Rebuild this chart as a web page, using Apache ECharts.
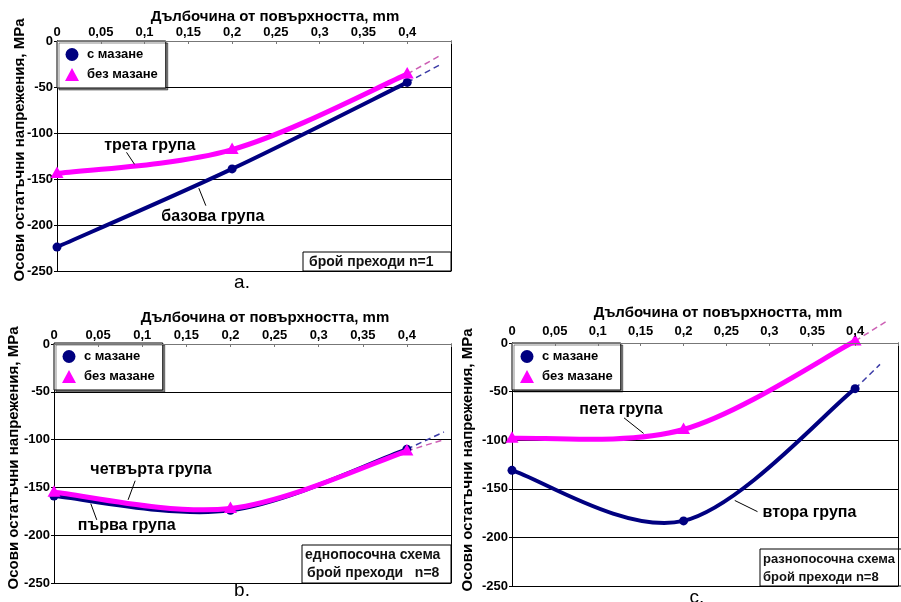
<!DOCTYPE html>
<html>
<head>
<meta charset="utf-8">
<script src="https://cdn.jsdelivr.net/npm/echarts@6/dist/echarts.min.js"></script>
<style>
html, body { margin: 0; padding: 0; background: #fff; }
#chart { width: 901px; height: 602px; }
</style>
</head>
<body>
<div id="chart"></div>
<script>
// Depth from the surface, mm
const depth = [0, 0.2, 0.4];

// a. one pass (n=1)
const baseGroup = [-224, -139, -45];   // с мазане
const thirdGroup = [-144, -118, -36];  // без мазане

// b. one-direction scheme, n=8
const firstGroup = [-159, -174, -110]; // с мазане
const fourthGroup = [-155, -172, -112];// без мазане

// c. alternating scheme, n=8
const secondGroup = [-131, -183, -47]; // с мазане
const fifthGroup = [-98, -89, 2];      // без мазане

// End points of the dashed extrapolation past 0.4 mm
const tailEndA = { oil: [0.439, -25], dry: [0.439, -15] };
const tailEndB = { oil: [0.442, -92], dry: [0.442, -100] };
const tailEndC = { oil: [0.429, -22], dry: [0.436, 22] };

const yTicks = { min: -250, max: 0, step: 50 };
const xTicks = { min: 0, max: 0.45, step: 0.05 };

const OIL = 'с мазане';
const DRY = 'без мазане';
const FONT = '"Liberation Sans", Arial, sans-serif';
const NAVY = '#000080';
const PINK = '#ff00ff';

const grids = [
  { left: 57, top: 41, width: 394, height: 230 },
  { left: 54, top: 344, width: 397, height: 239 },
  { left: 512, top: 343, width: 395, height: 243 }
];

function pairs(ys) { return depth.map((d, i) => [d, ys[i]]); }

const xAxes = grids.map((g, i) => ({
  type: 'value', gridIndex: i, position: 'top',
  min: xTicks.min, max: xTicks.max, interval: xTicks.step, z: 5,
  axisLine: { show: true, lineStyle: { color: '#777', width: 1 } },
  axisTick: { show: true, inside: true, length: 3, lineStyle: { color: '#777' } },
  axisLabel: {
    margin: i === 2 ? 5 : 2, color: '#000', fontFamily: FONT, fontWeight: 'bold', fontSize: 13,
    formatter: v => v > 0.44 ? '' : String(+v.toFixed(2)).replace('.', ',')
  },
  splitLine: { show: false }
}));

const yAxes = [];
grids.forEach((g, i) => {
  yAxes.push({
    type: 'value', gridIndex: i, min: yTicks.min, max: yTicks.max, interval: yTicks.step,
    axisLine: { show: true, onZero: false, lineStyle: { color: '#000', width: 1 } },
    axisTick: { show: true, length: 3, lineStyle: { color: '#000' } },
    axisLabel: { margin: 4, color: '#000', fontFamily: FONT, fontWeight: 'bold', fontSize: 13 },
    splitLine: { show: true, lineStyle: { color: '#000', width: 1 } }
  });
  yAxes.push({
    type: 'value', gridIndex: i, position: 'right', min: yTicks.min, max: yTicks.max, interval: yTicks.step,
    axisLine: { show: true, onZero: false, lineStyle: { color: '#000', width: 1 } },
    axisTick: { show: false }, axisLabel: { show: false }, splitLine: { show: false }
  });
});

// Cardinal (Catmull-Rom) spline through pixel points, as cubic Bezier segments
function splineSegments(pts) {
  const segs = [];
  const n = pts.length;
  for (let i = 0; i < n - 1; i++) {
    const p0 = pts[Math.max(i - 1, 0)], p1 = pts[i], p2 = pts[i + 1], p3 = pts[Math.min(i + 2, n - 1)];
    segs.push({
      x1: p1[0], y1: p1[1],
      cpx1: p1[0] + (p2[0] - p0[0]) / 6, cpy1: p1[1] + (p2[1] - p0[1]) / 6,
      cpx2: p2[0] - (p3[0] - p1[0]) / 6, cpy2: p2[1] - (p3[1] - p1[1]) / 6,
      x2: p2[0], y2: p2[1]
    });
  }
  return segs;
}

function curveSeries(name, ys, panel, isOil) {
  const color = isOil ? NAVY : PINK;
  const width = isOil ? 4 : 5;
  return {
    name: name, type: 'custom', xAxisIndex: panel, yAxisIndex: panel * 2,
    data: pairs(ys), z: isOil ? 3 : 4, clip: false,
    itemStyle: { color: color },
    encode: { x: 0, y: 1 }, silent: true, animation: false,
    renderItem: function (params, api) {
      const children = [];
      if (params.dataIndex === 0) {
        const pts = depth.map((d, k) => api.coord([d, ys[k]]));
        splineSegments(pts).forEach(s => children.push({
          type: 'bezierCurve', shape: s, silent: true,
          style: { stroke: color, lineWidth: width, fill: 'none', lineCap: 'round' }
        }));
      }
      const p = api.coord([api.value(0), api.value(1)]);
      if (isOil) {
        children.push({ type: 'circle', shape: { cx: p[0], cy: p[1], r: 4.5 }, style: { fill: color } });
      } else {
        children.push({ type: 'polygon', shape: { points: [[p[0], p[1] - 7], [p[0] - 6.5, p[1] + 4.5], [p[0] + 6.5, p[1] + 4.5]] }, style: { fill: color } });
      }
      return { type: 'group', children: children };
    }
  };
}

// Dashed extrapolation beyond the last measured depth; also carries the group captions
function tailSeries(name, ys, end, panel, isOil, notes) {
  const s = {
    name: name + ' ', type: 'line', xAxisIndex: panel, yAxisIndex: panel * 2,
    data: [[depth[2], ys[2]], end], clip: false, z: 2,
    symbol: 'none', smooth: false,
    lineStyle: { color: isOil ? '#3b3ba6' : '#cc5fb4', width: 1.5, type: [6, 4] },
    emphasis: { disabled: true }, animation: false, silent: true
  };
  if (notes) {
    s.markPoint = {
      silent: true, animation: false,
      data: notes.map(n => ({
        coord: n.at, symbol: 'rect', symbolSize: 1,
        itemStyle: { color: 'rgba(0,0,0,0)' },
        label: { show: true, position: 'inside', formatter: n.text, color: '#000',
                 fontFamily: FONT, fontWeight: 'bold', fontSize: 16 }
      }))
    };
    s.markLine = {
      silent: true, animation: false, symbol: 'none',
      lineStyle: { color: '#000', width: 1, type: 'solid' }, label: { show: false },
      data: notes.map(n => [{ coord: n.from }, { coord: n.to }])
    };
  }
  return s;
}

const series = [
  tailSeries(OIL, baseGroup, tailEndA.oil, 0, true, [
    { text: 'базова група', at: [0.178, -191], from: [0.162, -160], to: [0.170, -179] }
  ]),
  tailSeries(DRY, thirdGroup, tailEndA.dry, 0, false, [
    { text: 'трета група', at: [0.106, -114], from: [0.0794, -121], to: [0.0885, -134] }
  ]),
  curveSeries(OIL, baseGroup, 0, true),
  curveSeries(DRY, thirdGroup, 0, false),

  tailSeries(OIL, firstGroup, tailEndB.oil, 1, true, [
    { text: 'първа група', at: [0.0824, -190], from: [0.0417, -167], to: [0.0485, -184] }
  ]),
  tailSeries(DRY, fourthGroup, tailEndB.dry, 1, false, [
    { text: 'четвърта група', at: [0.110, -131], from: [0.092, -143], to: [0.084, -163] }
  ]),
  curveSeries(OIL, firstGroup, 1, true),
  curveSeries(DRY, fourthGroup, 1, false),

  tailSeries(OIL, secondGroup, tailEndC.oil, 2, true, [
    { text: 'втора група', at: [0.3468, -174.5], from: [0.2597, -162], to: [0.2862, -173.5] }
  ]),
  tailSeries(DRY, fifthGroup, tailEndC.dry, 2, false, [
    { text: 'пета група', at: [0.127, -68], from: [0.1306, -77], to: [0.1534, -93] }
  ]),
  curveSeries(OIL, secondGroup, 2, true),
  curveSeries(DRY, fifthGroup, 2, false)
];

const legendBoxes = [
  { left: 57, top: 41 },
  { left: 54, top: 343 },
  { left: 512, top: 343 }
];
const legends = legendBoxes.map(p => ({
  left: p.left, top: p.top, orient: 'vertical', selectedMode: false,
  backgroundColor: '#fff', borderColor: '#000', borderWidth: 1,
  shadowColor: 'rgba(0,0,0,0.45)', shadowOffsetX: 2, shadowOffsetY: 2, shadowBlur: 0,
  padding: [7, 8, 7, 8], itemGap: 7, itemWidth: 14, itemHeight: 13,
  textStyle: { color: '#000', fontFamily: FONT, fontWeight: 'bold', fontSize: 13, padding: [0, 0, 0, 3] },
  data: [{ name: OIL, icon: 'circle' }, { name: DRY, icon: 'triangle' }]
}));

const xTitle = 'Дълбочина от повърхността, mm';
const yTitle = 'Осови остатъчни напрежения, MPa';
const titleStyle = { fill: '#000', font: 'bold 15px ' + FONT, textAlign: 'center', textVerticalAlign: 'middle' };
const boxText = { fill: '#111', font: 'bold 14px ' + FONT, textAlign: 'left', textVerticalAlign: 'middle' };
const boxTextSmall = { fill: '#111', font: 'bold 13px ' + FONT, textAlign: 'left', textVerticalAlign: 'middle' };
const letterStyle = { fill: '#000', font: '19px ' + FONT, textAlign: 'center', textVerticalAlign: 'middle' };

const graphic = [
  { type: 'text', x: 275, y: 17, style: Object.assign({ text: xTitle }, titleStyle) },
  { type: 'text', x: 265, y: 318, style: Object.assign({ text: xTitle }, titleStyle) },
  { type: 'text', x: 718, y: 313, style: Object.assign({ text: xTitle }, titleStyle) },
  { type: 'text', x: 20, y: 150, rotation: Math.PI / 2, style: Object.assign({ text: yTitle }, titleStyle) },
  { type: 'text', x: 14, y: 458, rotation: Math.PI / 2, style: Object.assign({ text: yTitle }, titleStyle) },
  { type: 'text', x: 468, y: 460, rotation: Math.PI / 2, style: Object.assign({ text: yTitle }, titleStyle) },

  { type: 'rect', shape: { x: 303, y: 252, width: 148, height: 19 }, style: { fill: '#fff', stroke: '#000', lineWidth: 1 } },
  { type: 'text', x: 309, y: 262, style: Object.assign({ text: 'брой преходи n=1' }, boxText) },
  { type: 'rect', shape: { x: 302, y: 545, width: 149, height: 38 }, style: { fill: '#fff', stroke: '#000', lineWidth: 1 } },
  { type: 'text', x: 305, y: 555, style: Object.assign({ text: 'еднопосочна схема' }, boxText) },
  { type: 'text', x: 307, y: 573, style: Object.assign({ text: 'брой преходи   n=8' }, boxText) },
  { type: 'rect', shape: { x: 760, y: 549, width: 150, height: 37 }, style: { fill: '#fff', stroke: '#000', lineWidth: 1 } },
  { type: 'text', x: 763, y: 559, style: Object.assign({ text: 'разнопосочна схема' }, boxTextSmall) },
  { type: 'text', x: 763, y: 577, style: Object.assign({ text: 'брой преходи n=8' }, boxTextSmall) },

  { type: 'text', x: 242, y: 283, style: Object.assign({ text: 'a.' }, letterStyle) },
  { type: 'text', x: 242, y: 591, style: Object.assign({ text: 'b.' }, letterStyle) },
  { type: 'text', x: 697, y: 598, style: Object.assign({ text: 'c.' }, letterStyle) }
];

const chart = echarts.init(document.getElementById('chart'), null, { renderer: 'canvas' });
chart.setOption({
  backgroundColor: '#fff',
  animation: false,
  grid: grids,
  xAxis: xAxes,
  yAxis: yAxes,
  legend: legends,
  series: series,
  graphic: graphic
});
</script>
</body>
</html>
